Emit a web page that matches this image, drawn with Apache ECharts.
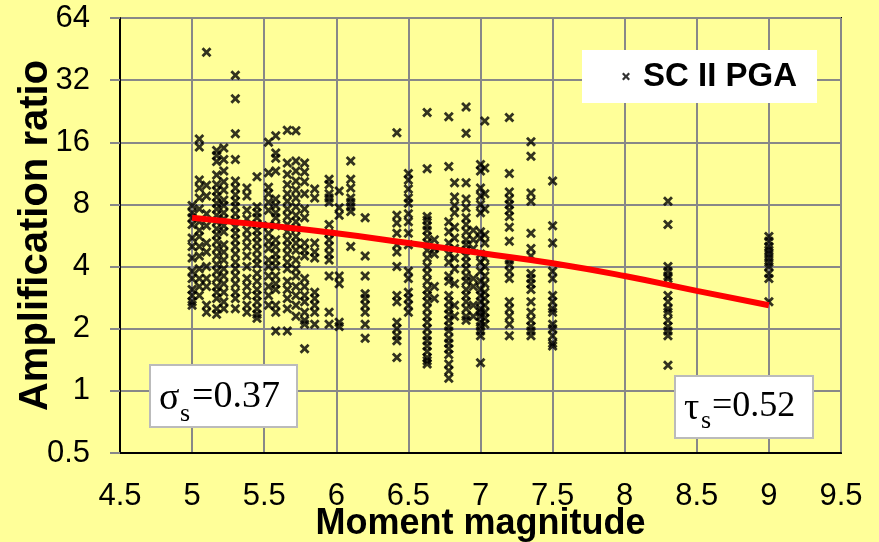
<!DOCTYPE html>
<html>
<head>
<meta charset="utf-8">
<script src="https://cdn.jsdelivr.net/npm/echarts@6/dist/echarts.min.js"></script>
<style>
  html, body { margin: 0; padding: 0; background: #FFFF99; }
  #chart { width: 879px; height: 542px; }
</style>
</head>
<body>
<div id="chart"></div>
<script>
// Moment magnitude of each column of points
const mwColumns = [5.0, 5.05, 5.1, 5.17, 5.22, 5.3, 5.38, 5.45, 5.53, 5.58, 5.66, 5.72, 5.78, 5.85, 5.95, 6.02, 6.1, 6.2, 6.42, 6.5, 6.63, 6.68, 6.78, 6.82, 6.9, 6.95, 7.0, 7.03, 7.2, 7.35, 7.5, 8.3, 9.0];
// Amplification ratios in each column
const ratioColumns = [
  [7.9, 7.3, 6.9, 6.4, 5.5, 5.0, 4.4, 3.8, 3.5, 3.1, 2.9, 2.7, 2.6],
  [16.6, 15.2, 10.5, 9.6, 8.6, 7.6, 6.6, 6.0, 5.6, 5.0, 4.5, 3.9, 3.5, 3.2, 2.9],
  [43.7, 9.9, 8.8, 7.2, 6.3, 5.2, 4.7, 4.0, 3.5, 3.2, 2.6, 2.4],
  [14.6, 13.8, 12.9, 11.1, 10.0, 9.3, 8.7, 8.1, 7.6, 7.1, 6.6, 6.1, 5.7, 5.3, 4.9, 4.5, 4.1, 3.8, 3.5, 3.2, 3.0, 2.8, 2.5, 2.35],
  [15.0, 13.2, 11.6, 10.3, 9.4, 8.4, 7.9, 7.3, 6.8, 6.3, 5.9, 5.1, 4.7, 4.3, 3.9, 3.6, 3.3, 3.0, 2.7, 2.5],
  [33.8, 26.0, 17.6, 13.2, 10.4, 9.6, 8.9, 8.3, 7.8, 7.2, 6.7, 6.2, 5.8, 5.4, 5.0, 4.6, 4.2, 3.9, 3.6, 3.3, 3.0, 2.8, 2.5],
  [9.6, 8.8, 7.5, 6.8, 6.0, 5.5, 5.0, 4.5, 4.0, 3.5, 3.2, 2.9, 2.6, 2.4],
  [10.9, 7.8, 7.3, 6.9, 6.4, 6.0, 5.6, 5.2, 4.8, 4.4, 4.1, 3.7, 3.4, 3.1, 2.9, 2.7, 2.5, 2.35, 2.25],
  [16.0, 11.4, 9.7, 9.0, 8.2, 7.5, 6.3, 5.8, 5.3, 4.9, 4.3, 4.0, 3.6, 3.2, 2.9, 2.6],
  [17.2, 14.2, 13.4, 11.6, 8.5, 7.9, 7.3, 6.9, 6.3, 5.4, 5.0, 4.6, 4.3, 4.0, 3.6, 3.3, 3.1, 2.6, 2.4, 1.95],
  [18.3, 12.7, 11.2, 10.0, 9.0, 8.3, 7.6, 7.0, 6.4, 5.9, 5.4, 5.0, 4.6, 4.2, 3.9, 3.4, 3.1, 2.8, 2.5, 1.95],
  [18.2, 13.0, 11.6, 10.4, 9.4, 8.6, 7.8, 7.1, 6.6, 6.1, 5.6, 5.2, 4.8, 4.3, 3.9, 3.6, 3.2, 2.9, 2.6, 2.3],
  [12.7, 11.5, 10.3, 9.0, 7.6, 6.9, 5.2, 4.8, 4.5, 3.5, 3.2, 2.9, 2.7, 2.4, 2.2, 2.1, 1.6],
  [9.5, 8.6, 5.2, 4.7, 4.4, 3.0, 2.8, 2.6, 2.4, 2.1],
  [10.6, 10.0, 9.0, 8.6, 8.2, 6.4, 5.8, 5.4, 5.0, 4.6, 4.3, 3.6, 2.4, 2.1],
  [9.3, 7.7, 7.1, 3.6, 3.3, 2.15, 2.05],
  [13.0, 10.6, 9.6, 8.6, 8.2, 7.8, 7.4, 5.0],
  [6.9, 4.5, 3.6, 2.95, 2.8, 2.6, 2.4, 2.1, 1.8],
  [17.8, 7.1, 6.5, 5.8, 5.1, 4.7, 4.0, 2.9, 2.7, 2.15, 2.0, 1.85, 1.75, 1.45],
  [11.3, 10.5, 9.5, 8.6, 8.1, 7.2, 6.6, 5.8, 5.1, 3.8, 3.5, 3.0, 2.8, 2.6, 2.4],
  [22.3, 11.9, 7.0, 6.7, 6.3, 6.0, 5.6, 5.2, 4.8, 4.4, 4.0, 3.7, 3.4, 3.1, 2.9, 2.7, 2.5, 2.3, 2.15, 2.0, 1.85, 1.75, 1.65, 1.55, 1.45, 1.4, 1.35],
  [5.4, 4.9, 4.6, 3.2, 2.8],
  [21.3, 12.2, 6.6, 5.9, 5.2, 4.6, 4.2, 3.6, 3.4, 2.9, 2.7, 2.5, 2.35, 2.2, 2.05, 1.95, 1.8, 1.7, 1.6, 1.5, 1.35, 1.25, 1.15],
  [10.2, 8.7, 7.9, 7.3, 6.2, 5.5, 4.9, 4.4, 3.9, 3.3, 2.6, 2.3],
  [23.7, 17.7, 10.2, 8.5, 7.7, 6.9, 6.4, 5.9, 5.4, 5.1, 4.8, 4.5, 4.2, 3.9, 3.6, 3.4, 3.1, 2.9, 2.7, 2.5, 2.3, 2.2],
  [6.0, 5.4, 4.9, 3.5, 3.2, 2.6, 2.3],
  [12.5, 11.6, 9.6, 8.8, 8.0, 7.3, 5.9, 5.5, 4.6, 4.2, 3.8, 3.4, 3.1, 2.9, 2.7, 2.5, 2.4, 2.3, 2.15, 2.05, 1.95, 1.85, 1.37],
  [20.3, 12.0, 9.0, 7.6, 5.7, 5.2, 4.4, 4.0, 3.6, 3.3, 3.0, 2.8, 2.6, 2.4, 2.25, 2.1],
  [21.1, 11.3, 9.2, 8.5, 8.0, 7.5, 7.0, 6.2, 5.3, 4.3, 4.1, 3.8, 3.5, 2.7, 2.5, 2.3, 2.1, 1.85],
  [16.1, 13.7, 9.1, 8.3, 5.8, 4.9, 4.5, 3.7, 3.5, 3.3, 3.1, 2.7, 2.4, 2.2, 2.05, 1.95, 1.85],
  [10.4, 6.3, 5.2, 3.8, 3.5, 2.9, 2.7, 2.5, 2.4, 2.1, 2.0, 1.85, 1.7, 1.65],
  [8.3, 6.4, 4.0, 3.8, 3.6, 3.5, 2.9, 2.7, 2.5, 2.4, 2.2, 2.05, 1.95, 1.85, 1.33],
  [5.6, 5.3, 5.0, 4.8, 4.6, 4.4, 4.2, 4.0, 3.7, 3.5, 2.7]
];
// Fitted trend (red curve)
const trendMw = [5, 5.5, 6, 6.5, 7, 7.5, 8, 8.5, 9];
const trendRatio = [6.9, 6.35, 5.8, 5.2, 4.65, 4.15, 3.6, 3.05, 2.6];
const yTicks = [0.5, 1, 2, 4, 8, 16, 32, 64];
const seriesName = 'SC II PGA';
const sigmaText = '0.37';
const tauText = '0.52';

const scatterData = [];
mwColumns.forEach((m, i) => ratioColumns[i].forEach(r => scatterData.push([m, r])));
const trendData = trendMw.map((m, i) => [m, trendRatio[i]]);

const xPath = 'path://M0,1.6L1.6,0L4,2.4L6.4,0L8,1.6L5.6,4L8,6.4L6.4,8L4,5.6L1.6,8L0,6.4L2.4,4Z';
const sans = 'Liberation Sans, Arial, sans-serif';
const serif = 'Liberation Serif, Times New Roman, serif';

const chart = echarts.init(document.getElementById('chart'), null, { renderer: 'canvas' });
chart.setOption({
  backgroundColor: '#FFFF99',
  animation: false,
  grid: { left: 120, right: 38, top: 18, bottom: 89, outerBoundsMode: 'none', containLabel: false, show: true, borderColor: '#000', borderWidth: 2, backgroundColor: 'transparent' },
  legend: {
    left: 582, top: 50,
    backgroundColor: '#fff',
    padding: [10, 20, 10, 40],
    itemWidth: 8, itemHeight: 8,
    icon: xPath,
    data: [{ name: seriesName, icon: xPath }],
    textStyle: { fontFamily: sans, fontWeight: 'bold', fontSize: 33, color: '#000', padding: [0, 0, 0, 8] }
  },
  xAxis: {
    type: 'value', min: 4.5, max: 9.5, interval: 0.5,
    name: 'Moment magnitude', nameLocation: 'middle', nameGap: 53, nameMoveOverlap: false,
    nameTextStyle: { fontFamily: sans, fontWeight: 'bold', fontSize: 36, color: '#000' },
    axisLine: { show: true, lineStyle: { color: '#000', width: 2 } },
    axisTick: { show: false },
    axisLabel: { fontFamily: sans, fontSize: 31, color: '#000', margin: 28 },
    splitLine: { show: true, lineStyle: { color: '#888', width: 2 } }
  },
  yAxis: {
    type: 'log', logBase: 2, min: yTicks[0], max: yTicks[yTicks.length - 1],
    name: 'Amplification ratio', nameLocation: 'middle', nameGap: 64, nameMoveOverlap: false,
    nameTextStyle: { fontFamily: sans, fontWeight: 'bold', fontSize: 40, color: '#000' },
    axisLine: { show: true, lineStyle: { color: '#000', width: 2 } },
    axisTick: { show: true, length: 10, lineStyle: { color: '#888', width: 2 } },
    axisLabel: { fontFamily: sans, fontSize: 31, color: '#000', margin: 30 },
    splitLine: { show: true, lineStyle: { color: '#888', width: 2 } }
  },
  series: [
    {
      name: seriesName, type: 'scatter', data: scatterData,
      symbol: xPath, symbolSize: 10,
      itemStyle: { color: '#000' }, z: 2
    },
    {
      name: 'trend', type: 'line', data: trendData, smooth: true,
      showSymbol: false, symbol: 'none',
      lineStyle: { color: '#FF0000', width: 6 }, z: 3
    }
  ],
  graphic: [
    { type: 'rect', shape: { x: 150, y: 365, width: 147, height: 62 }, style: { fill: '#fff', stroke: '#BBBBBB', lineWidth: 2 }, z: 10 },
    { type: 'text', x: 159, y: 399, style: { text: 'σ', font: '38px ' + serif, fill: '#000', verticalAlign: 'middle' }, z: 11 },
    { type: 'text', x: 180, y: 414, style: { text: 's', font: '26px ' + serif, fill: '#000', verticalAlign: 'middle' }, z: 11 },
    { type: 'text', x: 192, y: 397, style: { text: '=' + sigmaText, font: '38px ' + serif, fill: '#000', verticalAlign: 'middle' }, z: 11 },
    { type: 'rect', shape: { x: 675, y: 376, width: 138, height: 62 }, style: { fill: '#fff', stroke: '#BBBBBB', lineWidth: 2 }, z: 10 },
    { type: 'text', x: 684, y: 409, style: { text: 'τ', font: '38px ' + serif, fill: '#000', verticalAlign: 'middle' }, z: 11 },
    { type: 'text', x: 701, y: 421, style: { text: 's', font: '26px ' + serif, fill: '#000', verticalAlign: 'middle' }, z: 11 },
    { type: 'text', x: 712, y: 407, style: { text: '=' + tauText, font: '36px ' + serif, fill: '#000', verticalAlign: 'middle' }, z: 11 }
  ]
});
</script>
</body>
</html>
